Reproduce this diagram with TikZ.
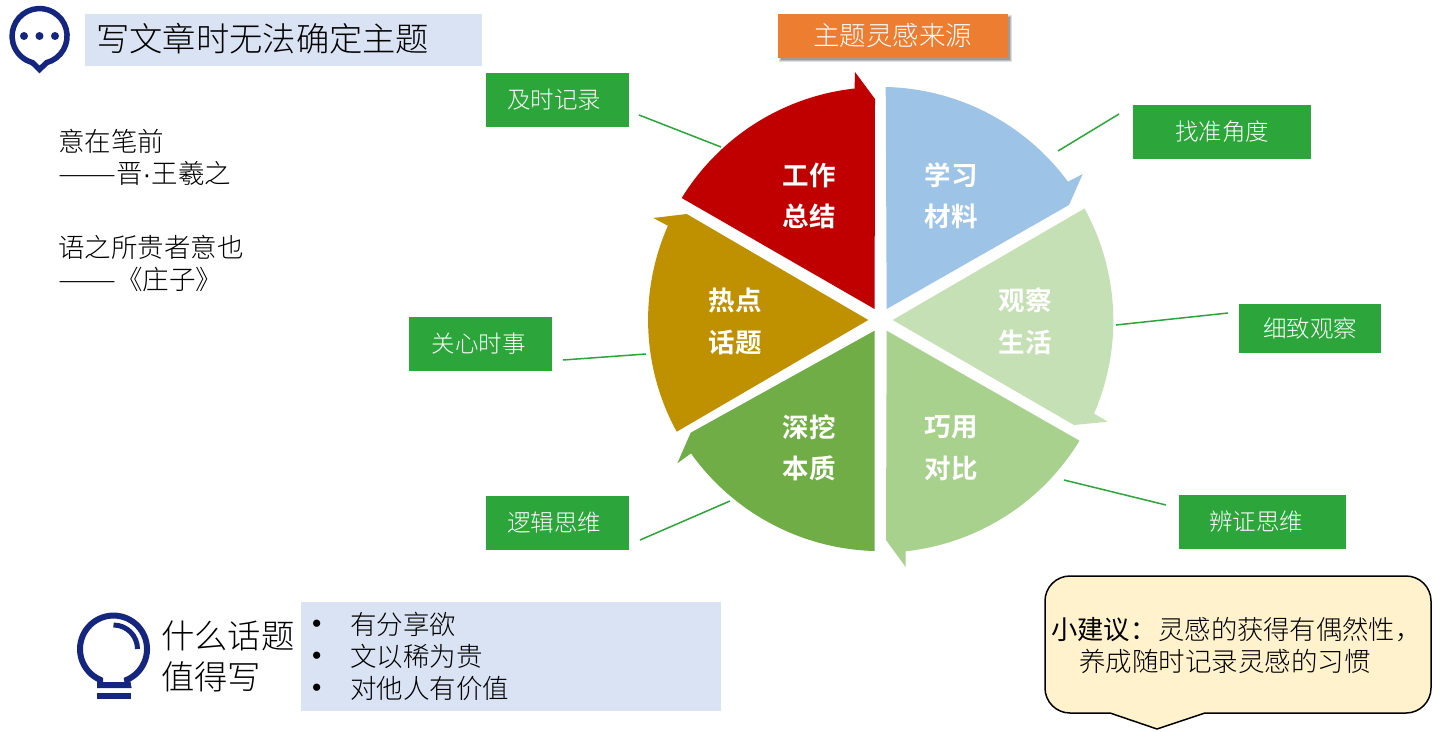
\documentclass[tikz,border=0pt]{standalone}
\usepackage{fontspec}
\setmainfont{Noto Sans CJK SC}[UprightFont=* Light,BoldFont=* Bold]
\newfontfamily\latinfont{Liberation Sans}
\newfontfamily\regularcjk{Noto Sans CJK SC}
\definecolor{navyicon}{HTML}{15267F}
\definecolor{paleblue}{HTML}{DAE3F3}
\definecolor{boxgreen}{HTML}{2CA53A}
\definecolor{tipfill}{HTML}{FFF2CC}
\newcommand{\longdash}{\resizebox{58pt}{\height}{——}}
\tikzset{
 x=1pt,y=-1pt,
 tagbox/.style={fill=boxgreen,text=white,font=\fontsize{23.5}{28}\selectfont,anchor=center,inner sep=0,minimum height=54pt},
 leader/.style={draw=boxgreen,line width=1.5pt},
 petal/.style={text=white,font=\fontsize{26.5}{31}\bfseries\selectfont,inner sep=0},
 body/.style={text=black,font=\fontsize{26.5}{31}\selectfont,inner sep=0,anchor=west},
 icon/.style={draw=navyicon,fill=none},
}
\begin{document}
\begin{tikzpicture}
\useasboundingbox (0,0) rectangle (1440,731);
\fill[white] (0,0) rectangle (1440,731);
\def\R{233}
% wheel
\fill[fill={rgb,255:red,192;green,0;blue,0}] (874.6,309) -- (681.7,198) arc[start angle=211.6,end angle=263.7,radius=\R] -- (855,72) -- (875,99) -- cycle;
\fill[fill={rgb,255:red,157;green,195;blue,230}] (886.7,309) -- (885.7,87) arc[start angle=-88.7,end angle=-36.4,radius=\R] -- (1082.7,174) -- (1069,205) -- cycle;
\fill[fill={rgb,255:red,197;green,224;blue,180}] (892.7,320) -- (1084.5,208.5) arc[start angle=-28.8,end angle=23.5,radius=\R] -- (1107.7,421.7) -- (1074,425) -- cycle;
\fill[fill={rgb,255:red,169;green,209;blue,142}] (886.7,330.7) -- (1079.5,440.7) arc[start angle=31.3,end angle=83.8,radius=\R] -- (905.7,567) -- (886,540) -- cycle;
\fill[fill={rgb,255:red,112;green,173;blue,71}] (874.6,330.7) -- (874.6,551) arc[start angle=91.5,end angle=144.5,radius=\R] -- (677.3,463.3) -- (690.7,432.7) -- cycle;
\fill[fill={rgb,255:red,191;green,144;blue,0}] (868.3,320) -- (676.7,431.7) arc[start angle=151.3,end angle=203.8,radius=\R] -- (653.3,218) -- (686.7,214) -- cycle;
\node[petal] (p1a) at (809,175) {工作};
\node[petal] (p1b) at (809,216) {总结};
\node[petal] (p2a) at (951,175) {学习};
\node[petal] (p2b) at (951,216) {材料};
\node[petal] (p3a) at (1025,300) {观察};
\node[petal] (p3b) at (1025,342) {生活};
\node[petal] (p4a) at (951,427) {巧用};
\node[petal] (p4b) at (951,468) {对比};
\node[petal] (p5a) at (809,427) {深挖};
\node[petal] (p5b) at (809,468) {本质};
\node[petal] (p6a) at (735,300) {热点};
\node[petal] (p6b) at (735,342) {话题};
% green tags
\node[tagbox,minimum width=143pt] (t1) at (557.5,100) {\hbox{及时记录\kern7pt}};
\node[tagbox,minimum width=178pt] (t2) at (1222,132) {找准角度};
\node[tagbox,minimum width=142pt,minimum height=49pt] (t3) at (1310,328.5) {细致观察};
\node[tagbox,minimum width=167pt] (t4) at (1262.5,522) {\hbox{辨证思维\kern13pt}};
\node[tagbox,minimum width=143pt] (t5) at (557.5,523) {\hbox{逻辑思维\kern7pt}};
\node[tagbox,minimum width=143pt] (t6) at (480.5,344) {\hbox{关心时事\kern4pt}};
\coordinate (a1) at (639,115); \coordinate (b1) at (721,147);
\coordinate (a2) at (1119,114); \coordinate (b2) at (1058,151);
\coordinate (a3) at (1228,313); \coordinate (b3) at (1116,325);
\coordinate (a4) at (1166,505); \coordinate (b4) at (1064,480);
\coordinate (a5) at (640,540); \coordinate (b5) at (730,501);
\coordinate (a6) at (563,360); \coordinate (b6) at (646,354);
\foreach \i in {1,...,6} \draw[leader] (a\i) -- (b\i);
% orange title
\fill[black,opacity=.12] (779,15) rectangle (1012,62);
\fill[black,opacity=.15] (780,16) rectangle (1011,61);
\fill[black,opacity=.18] (781,17) rectangle (1010,60);
\node[fill={rgb,255:red,237;green,125;blue,49},text=white,font=\fontsize{26.5}{31}\selectfont,inner sep=0,minimum width=230pt,minimum height=44pt] (src) at (892.5,35.5) {主题灵感来源};
% top-left
\node[fill=paleblue,minimum width=397pt,minimum height=52pt,inner sep=0] (head) at (283.5,40) {};
\node[anchor=west,inner sep=0,font=\fontsize{33.3}{40}\selectfont] (headt) at (96,39) {写文章时无法确定主题};
\draw[icon,line width=5.5pt,miter limit=10] (46.7,62.6) arc[start angle=75,end angle=-255,radius=27.5] -- (39.5,69.5) -- cycle;
\foreach \dx in {24,39.5,55} \fill[navyicon] (\dx,36) circle[radius=4];
% quotes
\node[body] (q1) at (58,141) {意在笔前};
\node[body] (q2) at (58,173) {\longdash 晋{\latinfont ·}王羲之};
\node[body] (q3) at (58,247) {语之所贵者意也};
\node[body] (q4) at (58,279) {\longdash 《庄子》};
% bulb
\draw[icon,line width=6pt] (100,679.7) arc[start angle=113.8,end angle=426.2,radius=33.5] -- (128,685) -- (100,685) -- cycle;
\fill[navyicon] (97,693) rectangle (131,699);
\draw[icon,line width=5pt] (113.5,625) arc[start angle=270,end angle=360,radius=24];
\node[anchor=west,inner sep=0,font=\fontsize{33.3}{38}\selectfont] (w1) at (161,636) {什么话题};
\node[anchor=west,inner sep=0,font=\fontsize{33.3}{38}\selectfont] (w2) at (161,677) {值得写};
\node[fill=paleblue,minimum width=420pt,minimum height=109pt,inner sep=0] (why) at (511,656.5) {};
\node[body] (d1) at (312,626) {\latinfont •};
\node[body] (d2) at (312,658) {\latinfont •};
\node[body] (d3) at (312,690) {\latinfont •};
\node[body] (l1) at (350,624) {有分享欲};
\node[body] (l2) at (350,656) {文以稀为贵};
\node[body] (l3) at (350,688) {对他人有价值};
% tip
\draw[fill=tipfill,draw=black,line width=1.5pt,line join=round] (1070,576) -- (1406,576) arc[start angle=-90,end angle=0,radius=25] -- (1431,688) arc[start angle=0,end angle=90,radius=25] -- (1205,713) -- (1157,729) -- (1110,713) -- (1070,713) arc[start angle=90,end angle=180,radius=25] -- (1045,601) arc[start angle=180,end angle=270,radius=25] -- cycle;
\node[body] (tipa) at (1051,630) {\fontsize{26.3}{31}\selectfont{\regularcjk 小建议：}\kern2pt灵感的获得有偶然性，};
\node[body] (tipb) at (1079,661) {养成随时记录灵感的习惯};
\end{tikzpicture}
\end{document}
